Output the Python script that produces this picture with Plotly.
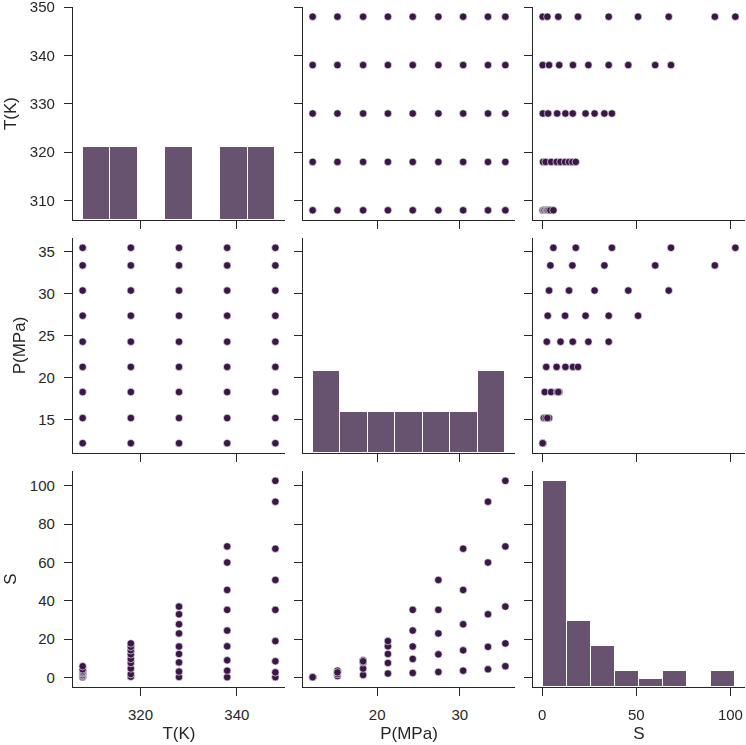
import numpy as np
import plotly.graph_objects as go

# ---------------- data ----------------
T_levels = [308, 318, 328, 338, 348]
P_levels = [12.2, 15.2, 18.3, 21.3, 24.3, 27.4, 30.4, 33.4, 35.5]
S_308 = [0.2, 0.8, 1.3, 2.1, 2.4, 2.9, 3.6, 4.3, 5.9]
S_318 = [0.4, 1.8, 4.7, 7.6, 9.7, 12.1, 14.2, 16.0, 17.8]
S_328 = [0.3, 3.1, 7.9, 12.3, 16.2, 23.0, 27.8, 33.0, 37.0]
S_338 = [0.2, 3.6, 9.0, 16.3, 24.5, 35.3, 45.7, 60.0, 68.4]
S_348 = [0.2, 2.7, 8.5, 19.0, 35.3, 50.9, 67.2, 91.7, 102.6]
var_names = ["T(K)", "P(MPa)", "S"]
x_ticks = [[320, 340], [20, 30], [0, 50, 100]]
y_ticks = [[310, 320, 330, 340, 350], [15, 20, 25, 30, 35], [0, 20, 40, 60, 80, 100]]
hist_bins = [7, 7, 8]

S_by_T = [S_308, S_318, S_328, S_338, S_348]
T = []
P = []
S = []
for t, srow in zip(T_levels, S_by_T):
    for p, s in zip(P_levels, srow):
        T.append(t)
        P.append(p)
        S.append(s)
data = [np.array(T, float), np.array(P, float), np.array(S, float)]

DOT = "#3b1748"
BAR = "rgb(103,82,112)"
INK = "#262626"
FONT = "Liberation Sans, Arial, sans-serif"

W, H = 746, 745
ml, mr, mt, mb = 73, 1, 7, 58
pw, ph = W - ml - mr, H - mt - mb
col_px = [(73, 285), (303, 515), (533, 745)]
row_px = [(7, 220), (238, 453), (471, 687)]
xdom = [[(a - ml) / pw, (b - ml) / pw] for a, b in col_px]
ydom = [[1 - (b - mt) / ph, 1 - (a - mt) / ph] for a, b in row_px]


def pad_range(v):
    lo, hi = float(np.min(v)), float(np.max(v))
    d = (hi - lo) * 0.05
    eps = (hi - lo) * 1e-4
    return [lo - d - eps, hi + d + eps]


ranges = [pad_range(v) for v in data]

fig = go.Figure()
layout = {}

# histogram counts (shared y for diagonals)
hists = []
for i in range(3):
    counts, edges = np.histogram(data[i], bins=hist_bins[i])
    hists.append((counts, edges))
hmax = max(c.max() for c, _ in hists) * 1.05


def ax_names(k):
    return f"xaxis{k}", f"yaxis{k}", f"x{k}", f"y{k}"


for r in range(3):
    for c in range(3):
        k = r * 3 + c + 1
        xa, ya, xref, yref = ax_names(k)
        layout[xa] = dict(
            domain=xdom[c], anchor=yref, range=ranges[c],
            tickvals=x_ticks[c], showticklabels=(r == 2),
            ticks="outside", ticklen=8, tickwidth=1.25, tickcolor=INK,
            showline=True, linecolor=INK, linewidth=1.25,
            showgrid=False, zeroline=False, automargin=False,
            tickfont=dict(size=15, color=INK, family=FONT),
            ticklabelstandoff=6, ticklabeloverflow="allow",
            title=dict(text=var_names[c] if r == 2 else "",
                       font=dict(size=17, color=INK, family=FONT), standoff=4),
        )
        layout[ya] = dict(
            domain=ydom[r], anchor=xref, range=ranges[r],
            tickvals=y_ticks[r], showticklabels=(c == 0),
            ticks="outside", ticklen=8, tickwidth=1.25, tickcolor=INK,
            showline=True, linecolor=INK, linewidth=1.25,
            showgrid=False, zeroline=False, automargin=False,
            tickfont=dict(size=15, color=INK, family=FONT),
            ticklabelstandoff=6, ticklabeloverflow="allow",
            title=dict(text=var_names[r] if c == 0 else "",
                       font=dict(size=17, color=INK, family=FONT), standoff=8),
        )
        # scatter off the diagonal; an invisible carrier trace on the diagonal
        fig.add_trace(go.Scatter(
            x=data[c], y=data[r], mode="markers", xaxis=xref, yaxis=yref,
            marker=dict(size=7.5, color=DOT, line=dict(color="white", width=0.6)),
            opacity=(1 if r != c else 0),
            showlegend=False, hoverinfo="skip"))

# diagonal histograms on overlaid hidden axes (shared count scale)
for i in range(3):
    k = i * 4 + 1
    xa, ya, xref, yref = ax_names(k)
    ov = 10 + i
    layout[f"yaxis{ov}"] = dict(overlaying=yref, anchor=xref, domain=ydom[i],
                                range=[0, hmax], side="right", automargin=False,
                                visible=False, showgrid=False, zeroline=False)
    counts, edges = hists[i]
    centers = (edges[:-1] + edges[1:]) / 2
    width = edges[1] - edges[0]
    fig.add_trace(go.Bar(
        x=centers, y=counts, width=width, xaxis=xref, yaxis=f"y{ov}",
        marker=dict(color=BAR, line=dict(color="white", width=1)),
        showlegend=False, hoverinfo="skip"))

fig.update_layout(
    width=W, height=H,
    margin=dict(l=ml, r=mr, t=mt, b=mb, autoexpand=False),
    paper_bgcolor="white", plot_bgcolor="white",
    font=dict(family=FONT, color=INK),
    bargap=0,
    **layout,
)
fig.write_html("out.html")
